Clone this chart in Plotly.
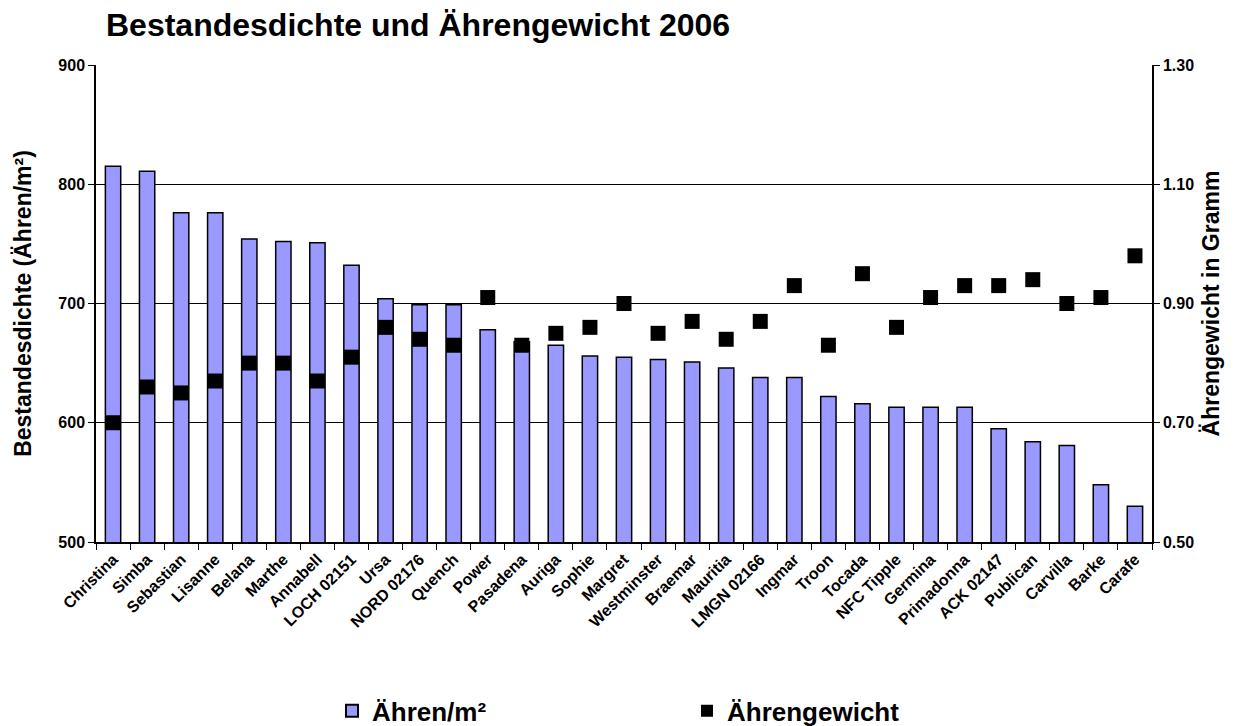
import plotly.graph_objects as go

sorten = ["Christina", "Simba", "Sebastian", "Lisanne", "Belana", "Marthe", "Annabell",
          "LOCH 02151", "Ursa", "NORD 02176", "Quench", "Power", "Pasadena", "Auriga",
          "Sophie", "Margret", "Westminster", "Braemar", "Mauritia", "LMGN 02166", "Ingmar",
          "Troon", "Tocada", "NFC Tipple", "Germina", "Primadonna", "ACK 02147", "Publican",
          "Carvilla", "Barke", "Carafe"]
aehren_m2 = [815, 811, 776, 776, 754, 752, 751, 732, 704, 699, 699, 678, 668, 665, 656, 655,
             653, 651, 646, 638, 638, 622, 616, 613, 613, 613, 595, 584, 581, 548, 530]
aehrengewicht = [0.70, 0.76, 0.75, 0.77, 0.80, 0.80, 0.77, 0.81, 0.86, 0.84, 0.83, 0.91, 0.83,
                 0.85, 0.86, 0.90, 0.85, 0.87, 0.84, 0.87, 0.93, 0.83, 0.95, 0.86, 0.91, 0.93,
                 0.93, 0.94, 0.90, 0.91, 0.98]

FONT = "Arial, Liberation Sans, sans-serif"

fig = go.Figure()
fig.add_trace(go.Bar(
    x=sorten, y=aehren_m2, name="Ähren/m²",
    marker=dict(color="#9999FF", line=dict(color="black", width=1.5)),
    width=0.45,
))
fig.add_trace(go.Scatter(
    x=sorten, y=aehrengewicht, name="Ährengewicht", yaxis="y2", mode="markers",
    marker=dict(symbol="square", size=15, color="black"),
))

fig.update_layout(
    width=1240, height=726,
    paper_bgcolor="white", plot_bgcolor="white",
    margin=dict(l=96, r=88, t=65, b=184, autoexpand=False),
    font=dict(family=FONT, color="black", weight="bold"),
    title=dict(text="Bestandesdichte und Ährengewicht 2006", x=106/1240, xanchor="left",
               y=1-25/726, yanchor="middle",
               font=dict(size=32, family=FONT, weight="bold")),
    showlegend=True,
    legend=dict(orientation="h", x=(332-96)/1056, xanchor="left", y=-0.354, yanchor="middle",
                font=dict(size=26, family=FONT, weight="bold"), entrywidth=310,
                entrywidthmode="pixels", itemsizing="constant"),
    xaxis=dict(
        range=[-0.5, 30.5], automargin=False,
        tickangle=-45, tickfont=dict(size=16, family=FONT, weight="bold"),
        ticks="outside", tickson="boundaries", ticklen=6, tickcolor="black",
        showline=True, linecolor="black", linewidth=1.5, mirror=False,
        showgrid=False,
    ),
    yaxis=dict(
        range=[500, 900], dtick=100, automargin=False,
        tickfont=dict(size=16, family=FONT, weight="bold"),
        title=dict(text="Bestandesdichte (Ähren/m²)", font=dict(size=23, family=FONT, weight="bold"),
                   standoff=20),
        ticks="outside", ticklen=6, tickcolor="black",
        showline=True, linecolor="black", linewidth=1.5,
        showgrid=True, gridcolor="black", gridwidth=1, zeroline=False,
    ),
    yaxis2=dict(
        range=[0.5, 1.3], tick0=0.5, dtick=0.2, tickformat=".2f", overlaying="y", side="right",
        automargin=False,
        tickfont=dict(size=16, family=FONT, weight="bold"),
        title=dict(text="Ährengewicht in Gramm", font=dict(size=23, family=FONT, weight="bold"),
                   standoff=10),
        ticks="outside", ticklen=6, tickcolor="black",
        showline=True, linecolor="black", linewidth=1.5,
        showgrid=False, zeroline=False,
    ),
    bargap=0.55,
)

fig.write_html("out.html", config={"displayModeBar": False},
               post_script="document.body.style.margin='0';")
